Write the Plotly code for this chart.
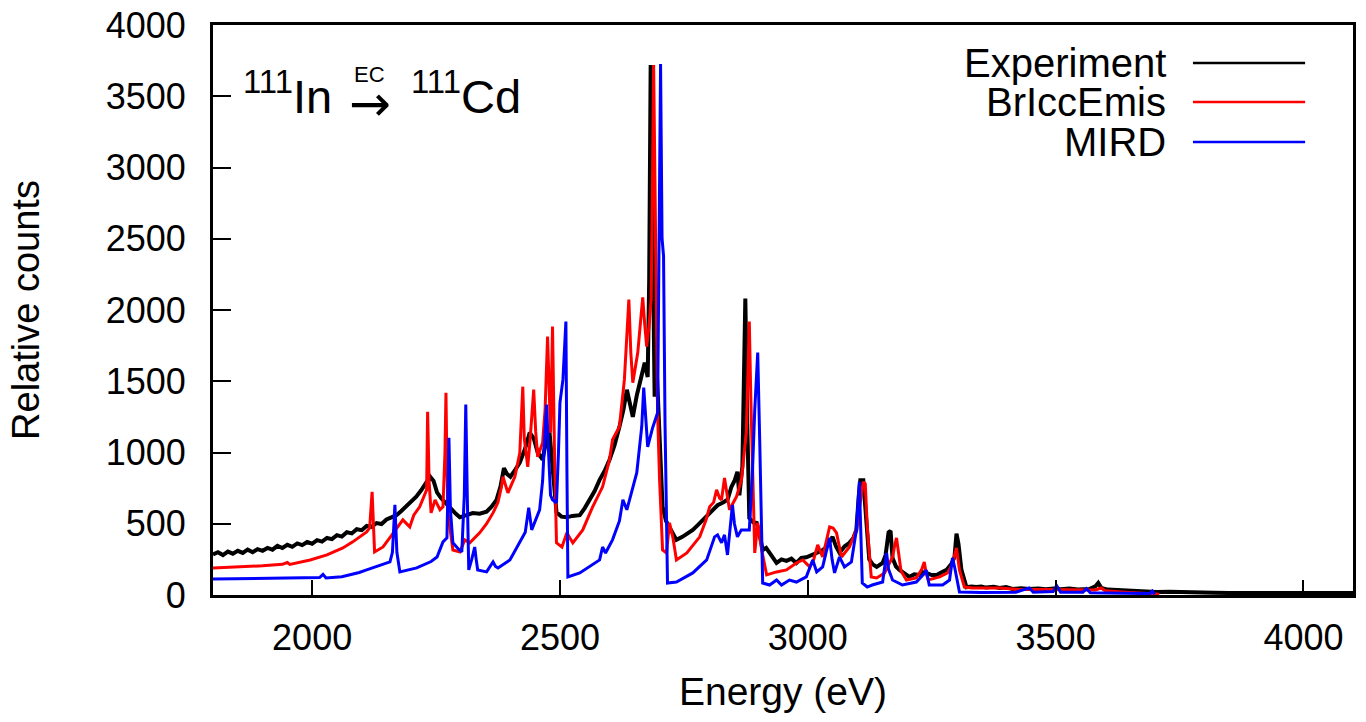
import plotly.graph_objects as go

# ---------------- data ----------------
exp_e = [1800, 1810, 1820, 1830, 1840, 1850, 1860, 1870, 1880, 1890, 1900, 1910, 1920, 1930, 1940,
         1950, 1960, 1970, 1980, 1990, 2000, 2010, 2020, 2030, 2040, 2050, 2060, 2070, 2080, 2090,
         2100, 2110, 2120, 2130, 2140, 2150, 2160, 2170, 2180, 2190, 2200, 2210, 2220, 2230, 2238,
         2245, 2252, 2260, 2270, 2280, 2290, 2298, 2310, 2324, 2338, 2352, 2362, 2372, 2380, 2387,
         2393, 2400, 2410, 2419, 2430, 2439, 2447, 2455, 2465, 2472, 2479, 2485, 2493, 2503, 2514,
         2525, 2540, 2550, 2560, 2570, 2580, 2590, 2600, 2610, 2620, 2628, 2635, 2641, 2647, 2655,
         2661, 2667, 2671, 2677, 2680, 2683, 2686, 2691, 2695, 2701, 2707, 2714, 2721, 2735, 2747,
         2758, 2768, 2778, 2788, 2798, 2808, 2818, 2828, 2838, 2846, 2852, 2858, 2862, 2868, 2871,
         2874, 2878, 2882, 2890, 2897, 2903, 2909, 2916, 2923, 2930, 2937, 2947, 2957, 2967, 2977,
         2987, 2997, 3008, 3018, 3028, 3038, 3044, 3050, 3057, 3064, 3074, 3084, 3092, 3098, 3103,
         3106, 3112, 3116, 3120, 3124, 3131, 3139, 3151, 3157, 3163, 3167, 3171, 3178, 3185, 3195,
         3205, 3215, 3225, 3232, 3239, 3250, 3260, 3270, 3280, 3290, 3296, 3300, 3304, 3310, 3316,
         3320, 3330, 3340, 3350, 3360, 3375, 3387, 3400, 3413, 3430, 3447, 3465, 3480, 3497, 3510,
         3528, 3545, 3568, 3580, 3586, 3592, 3605, 3622, 3640, 3649, 3670, 3703, 3730, 3760, 3784,
         3820, 3850, 3900, 3950, 4000, 4050, 4100]
exp_c = [285, 300, 280, 305, 290, 310, 295, 318, 300, 322, 310, 330, 318, 345, 330,
         352, 338, 362, 350, 372, 360, 385, 375, 400, 392, 420, 410, 440, 432, 462,
         455, 485, 478, 505, 498, 530, 545, 560, 590, 625, 660, 690, 735, 790, 830,
         800, 720, 680, 640, 600, 570, 545, 560, 575, 570, 585, 620, 668, 760, 890,
         850, 830, 880, 930, 1030, 1140, 1100, 1000, 950, 1080, 1140, 900, 580, 550, 545,
         555, 560, 610, 668, 730, 808, 870, 949, 1050, 1180, 1300, 1440, 1330, 1250, 1400,
         1490, 1560, 1630, 1530, 2200, 3720, 3000, 1392, 1603, 1090, 619, 520, 478, 387, 408,
         430, 457, 490, 527, 560, 598, 630, 647, 668, 760, 800, 865, 700, 900, 1500,
         2080, 1200, 540, 510, 506, 420, 316, 330, 300, 260, 225, 250, 240, 255, 225,
         260, 265, 280, 295, 310, 337, 380, 408, 340, 295, 340, 366, 400, 457, 700,
         805, 805, 600, 366, 250, 215, 197, 225, 280, 440, 450, 260, 200, 176, 150,
         127, 145, 141, 160, 155, 140, 141, 160, 176, 220, 267, 430, 360, 176, 90,
         55, 60, 56, 60, 52, 58, 49, 55, 42, 48, 42, 46, 40, 45, 40,
         45, 38, 42, 60, 85, 50, 38, 35, 30, 28, 26, 21, 22, 18, 21,
         16, 14, 15, 12, 14, 12, 14]

bricc_e = [1800, 1850, 1900, 1940, 1950, 1955, 1996, 2030, 2062, 2082, 2096, 2110, 2116, 2121, 2126,
           2135, 2143, 2161, 2183, 2197, 2205, 2217, 2226, 2231, 2233, 2236, 2240, 2248, 2258, 2264,
           2268, 2270, 2272, 2274, 2284, 2298, 2308, 2318, 2338, 2352, 2365, 2375, 2382, 2385, 2395,
           2409, 2419, 2422, 2425, 2428, 2435, 2440, 2447, 2451, 2455, 2465, 2470, 2475, 2478, 2481,
           2483, 2485, 2489, 2493, 2504, 2514, 2520, 2526, 2546, 2566, 2586, 2600, 2606, 2620, 2630,
           2635, 2639, 2643, 2647, 2657, 2662, 2667, 2671, 2675, 2680, 2684, 2687, 2689, 2693, 2697,
           2701, 2707, 2715, 2721, 2728, 2735, 2756, 2782, 2795, 2802, 2810, 2816, 2822, 2826, 2832,
           2842, 2856, 2866, 2876, 2879, 2882, 2885, 2888, 2893, 2899, 2907, 2917, 2937, 2957, 2977,
           2990, 3004, 3012, 3020, 3030, 3038, 3044, 3051, 3058, 3068, 3084, 3098, 3106, 3112, 3116,
           3120, 3128, 3139, 3155, 3171, 3175, 3179, 3183, 3188, 3199, 3219, 3230, 3235, 3239, 3243,
           3266, 3282, 3292, 3300, 3306, 3316, 3332, 3360, 3387, 3420, 3460, 3500, 3540, 3580, 3592,
           3600, 3640, 3680, 3709]
bricc_c = [190, 195, 205, 215, 228, 215, 246, 281, 330, 373, 408, 443, 470, 724, 302,
           320, 337, 422, 527, 478, 560, 619, 700, 738, 1286, 800, 576, 668, 598, 619,
           1000, 1420, 900, 576, 316, 302, 387, 366, 436, 500, 576, 650, 760, 830, 717,
           830, 998, 1200, 1462, 1100, 900, 1100, 1441, 1150, 970, 1069, 1300, 1814, 1400, 1139,
           1500, 1884, 1000, 366, 337, 436, 400, 366, 457, 619, 759, 950, 1090, 1181, 1511,
           1800, 2074, 1700, 1490, 1701, 1900, 2088, 1900, 1743, 1900, 2074, 3000, 3719, 2500, 1279,
           808, 316, 295, 506, 400, 246, 295, 408, 530, 619, 650, 738, 680, 668, 822,
           598, 689, 808, 1139, 1500, 1919, 1400, 928, 295, 506, 316, 141, 162, 176, 225,
           246, 197, 250, 352, 267, 400, 478, 470, 436, 267, 337, 457, 650, 794, 780,
           478, 127, 120, 155, 267, 340, 401, 300, 170, 105, 120, 180, 232, 150, 105,
           127, 155, 220, 330, 176, 56, 49, 49, 49, 40, 38, 35, 32, 35, 49,
           30, 20, 12, 5]

mird_e = [1800, 1900, 1996, 2015, 2022, 2028, 2060, 2076, 2095, 2110, 2137, 2157, 2162, 2167, 2171,
          2177, 2211, 2240, 2252, 2264, 2272, 2274, 2276, 2279, 2284, 2296, 2302, 2307, 2310, 2313,
          2316, 2322, 2328, 2331, 2334, 2352, 2360, 2365, 2370, 2375, 2399, 2419, 2430, 2437, 2443,
          2459, 2465, 2469, 2473, 2477, 2481, 2485, 2493, 2497, 2500, 2506, 2509, 2512, 2514, 2516,
          2540, 2566, 2580, 2586, 2592, 2606, 2620, 2627, 2635, 2655, 2665, 2669, 2673, 2677, 2687,
          2697, 2700, 2703, 2706, 2709, 2712, 2715, 2717, 2735, 2768, 2796, 2812, 2818, 2826, 2832,
          2838, 2848, 2852, 2858, 2866, 2882, 2888, 2893, 2899, 2903, 2906, 2909, 2923, 2937, 2947,
          2963, 2977, 2997, 3010, 3018, 3030, 3040, 3044, 3049, 3054, 3064, 3074, 3088, 3098, 3104,
          3107, 3110, 3120, 3130, 3151, 3155, 3159, 3163, 3171, 3191, 3219, 3235, 3239, 3245, 3272,
          3286, 3290, 3292, 3296, 3300, 3306, 3350, 3420, 3447, 3455, 3495, 3502, 3510, 3555, 3562,
          3570, 3640, 3690, 3695, 3700]
mird_c = [112, 116, 120, 122, 145, 120, 128, 141, 158, 176, 211, 232, 300, 633, 300,
          162, 190, 235, 267, 373, 401, 700, 1104, 600, 366, 320, 302, 700, 1336, 700,
          176, 250, 337, 250, 176, 162, 200, 232, 200, 190, 246, 366, 440, 612, 457,
          598, 800, 1090, 1336, 1000, 700, 668, 647, 1000, 1350, 1511, 1700, 1919, 900, 127,
          155, 211, 246, 337, 295, 387, 520, 668, 598, 858, 1181, 1455, 1200, 1040, 1174,
          1279, 2500, 3726, 2500, 2380, 1200, 576, 84, 91, 155, 246, 408, 422, 366, 422,
          281, 633, 500, 408, 457, 457, 830, 1300, 1701, 1090, 500, 84, 70, 105, 70,
          105, 91, 127, 246, 162, 197, 350, 401, 250, 155, 267, 197, 232, 457, 794,
          400, 84, 56, 70, 91, 200, 295, 180, 105, 70, 91, 150, 176, 70, 70,
          105, 200, 260, 200, 127, 21, 18, 20, 50, 20, 25, 65, 20, 20, 45,
          15, 12, 10, 28, 5]

series_names = ["Experiment", "BrIccEmis", "MIRD"]
series_colors = ["#000000", "#ff0000", "#0000ff"]
x_ticks = [2000, 2500, 3000, 3500, 4000]
y_ticks = [0, 500, 1000, 1500, 2000, 2500, 3000, 3500, 4000]

FONT = "Liberation Sans, Arial, sans-serif"

fig = go.Figure()
for xs, ys, name, col, w in zip([exp_e, bricc_e, mird_e], [exp_c, bricc_c, mird_c],
                                series_names, series_colors, [4, 3, 3]):
    fig.add_trace(go.Scatter(x=xs, y=ys, mode="lines", name=name,
                             line=dict(color=col, width=w), showlegend=False))

# legend drawn as right-aligned text followed by a line sample
leg_y = [0.9333, 0.865, 0.7947]
for name, col, yy in zip(series_names, series_colors, leg_y):
    fig.add_annotation(xref="paper", yref="paper", x=0.8377, y=yy, xanchor="right", yanchor="middle",
                       text=name, showarrow=False, font=dict(size=40, color="black", family=FONT))
    fig.add_shape(type="line", xref="paper", yref="paper", x0=0.8596, x1=0.958, y0=yy, y1=yy,
                  line=dict(color=col, width=2.5))

# reaction label: 111In  --EC-->  111Cd
fig.add_annotation(xref="paper", yref="paper", x=0.0246, y=0.881, xanchor="left", yanchor="middle",
                   text="<sup>111</sup>In", showarrow=False,
                   font=dict(size=47, color="black", family=FONT))
fig.add_annotation(xref="paper", yref="paper", x=0.1377, y=0.862, xanchor="center", yanchor="middle",
                   text="\u2192", showarrow=False,
                   font=dict(size=50, color="black", family="DejaVu Sans"))
fig.add_annotation(xref="paper", yref="paper", x=0.272, y=0.881, xanchor="right", yanchor="middle",
                   text="<sup>111</sup>Cd", showarrow=False,
                   font=dict(size=47, color="black", family=FONT))
fig.add_annotation(xref="paper", yref="paper", x=0.1377, y=0.914, xanchor="center", yanchor="middle",
                   text="EC", showarrow=False, font=dict(size=22, color="black", family=FONT))

fig.update_layout(
    width=1366, height=722,
    margin=dict(l=213, r=13, t=25, b=127),
    plot_bgcolor="white", paper_bgcolor="white",
    font=dict(family=FONT, size=36, color="black"),
    showlegend=False,
)
fig.update_xaxes(range=[1800, 4100], tickvals=x_ticks, ticks="inside", ticklen=15, tickwidth=2,
                 tickcolor="black", showline=True, linewidth=3, linecolor="black", mirror=True,
                 showgrid=False, zeroline=False, ticklabelstandoff=9, automargin=False,
                 ticklabeloverflow="allow",
                 title=dict(text="Energy (eV)", standoff=21, font=dict(size=39)))
fig.update_yaxes(range=[0, 4000], tickvals=y_ticks, ticks="inside", ticklen=18, tickwidth=2,
                 tickcolor="black", showline=True, linewidth=3, linecolor="black", mirror=True,
                 showgrid=False, zeroline=False, ticklabelstandoff=17, automargin=False,
                 ticklabeloverflow="allow",
                 title=dict(text="Relative counts", standoff=55, font=dict(size=38)))

fig.write_html("out.html", config={"displayModeBar": False},
               post_script="document.body.style.margin='0';document.body.style.overflow='hidden';")
